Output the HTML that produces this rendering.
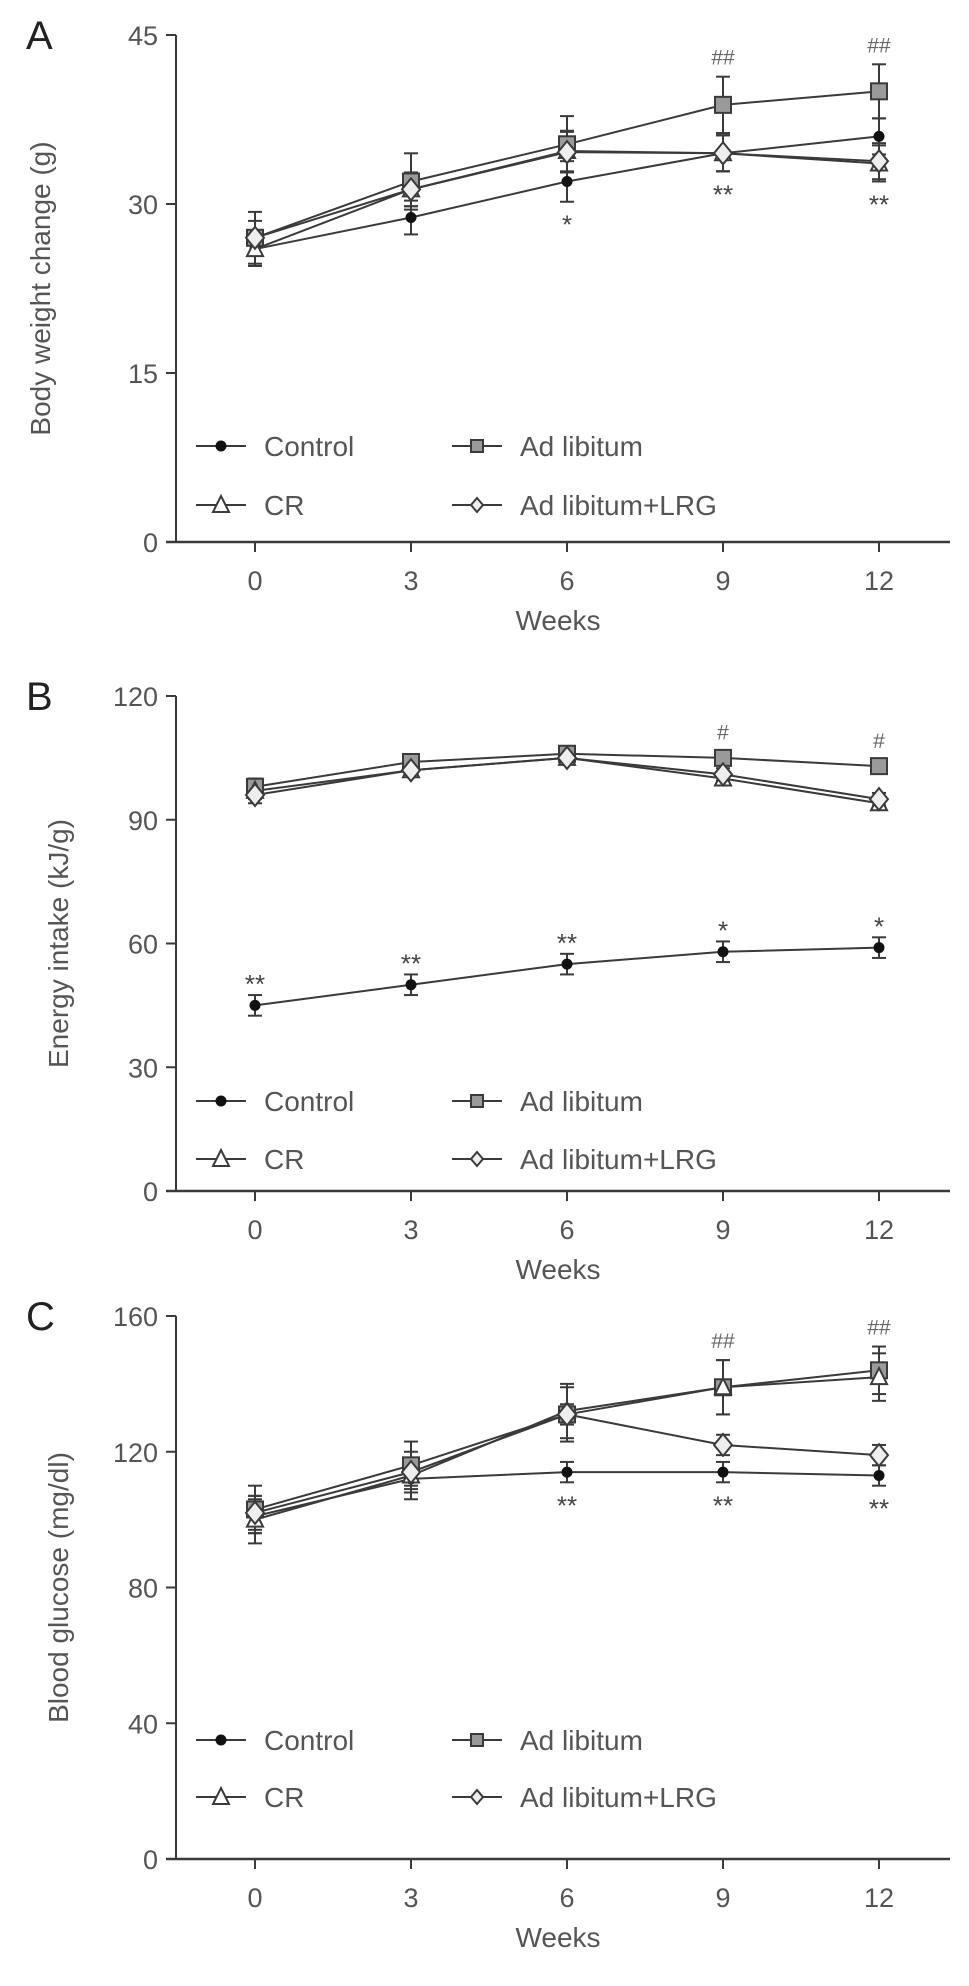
<!DOCTYPE html>
<html><head><meta charset="utf-8"><style>
html,body{margin:0;padding:0;background:#fff;}
svg{display:block;font-family:"Liberation Sans",sans-serif;}
</style></head><body>
<svg id="fig" width="969" height="1986" viewBox="0 0 969 1986"></svg>
<script>
const weeks = [0, 3, 6, 9, 12];
const xTickLabels = ["0", "3", "6", "9", "12"];
// Panel A: body weight change (g)
const aControl = [26, 28.8, 32, 34.5, 36];
const aAdLib = [27, 32, 35.3, 38.8, 40];
const aCR = [26, 31.3, 34.7, 34.5, 33.6];
const aLRG = [27, 31.3, 34.6, 34.5, 33.8];
const aErr = [1.5, 1.5, 1.8, 1.6, 1.6];
const aAdErr = [2.3, 2.5, 2.5, 2.5, 2.4];
const aTicks = [0, 15, 30, 45];
const aAbove = ["", "", "", "##", "##"];
const aBelow = ["", "", "*", "**", "**"];
// Panel B: energy intake (kJ/g)
const bControl = [45, 50, 55, 58, 59];
const bAdLib = [98, 104, 106, 105, 103];
const bCR = [97, 102, 105, 100, 94];
const bLRG = [96, 102, 105, 101, 95];
const bErr = [2.5, 2.5, 2.5, 2.5, 2.5];
const bAdErr = [2, 1.5, 1.5, 1.5, 1.5];
const bTicks = [0, 30, 60, 90, 120];
// Panel C: blood glucose (mg/dl)
const cControl = [101, 112, 114, 114, 113];
const cAdLib = [103, 116, 131, 139, 144];
const cCR = [100, 113, 132, 139, 142];
const cLRG = [102, 114, 131, 122, 119];
const cErr = [5, 4, 3, 3, 3];
const cAdErr = [7, 7, 8, 8, 7];
const cTicks = [0, 40, 80, 120, 160];

const NS = "http://www.w3.org/2000/svg";
const svg = document.getElementById("fig");
function mk(tag, attrs, parent, text) {
  const e = document.createElementNS(NS, tag);
  for (const k in attrs) e.setAttribute(k, attrs[k]);
  if (text !== undefined) e.textContent = text;
  (parent || svg).appendChild(e);
  return e;
}
const LC = "#3a3a3a", TC = "#555";

function marker(g, type, cx, cy) {
  if (type === "circle") return mk("circle", {cx, cy, r: 5.5, fill: "#111"}, g);
  if (type === "square") return mk("rect", {x: cx-8, y: cy-8, width: 16, height: 16, fill: "#9a9a9a", stroke: LC, "stroke-width": 2}, g);
  if (type === "tri") return mk("polygon", {points: `${cx},${cy-9} ${cx+8},${cy+7} ${cx-8},${cy+7}`, fill: "#fff", stroke: LC, "stroke-width": 2}, g);
  return mk("polygon", {points: `${cx},${cy-11} ${cx+9},${cy} ${cx},${cy+11} ${cx-9},${cy}`, fill: "#eee", stroke: LC, "stroke-width": 2}, g);
}

function panel(cfg) {
  const g = mk("g", {});
  
  
  const X = w => 255 + w * 52;
  const Y = v => cfg.y0 - (v / cfg.max) * (cfg.y0 - cfg.yTop);
  const L = mk("text", {x: 26, y: cfg.yTop + 14, "font-size": 40, fill: "#222"}, g, cfg.letter);
  
  
  const ya = mk("line", {x1: 176, y1: cfg.yTop, x2: 176, y2: cfg.y0, stroke: LC, "stroke-width": 2}, g);
  
  
  const xa = mk("line", {x1: 166, y1: cfg.y0, x2: 950, y2: cfg.y0, stroke: LC, "stroke-width": 2.5}, g);
  
  
  cfg.ticks.forEach(t => {
    mk("line", {x1: 166, y1: Y(t), x2: 176, y2: Y(t), stroke: LC, "stroke-width": 2}, g);
    const tl = mk("text", {x: 158, y: Y(t) + 10, "font-size": 27, fill: TC, "text-anchor": "end"}, g, String(t));
    
    
  });
  weeks.forEach((w, i) => {
    mk("line", {x1: X(w), y1: cfg.y0, x2: X(w), y2: cfg.y0 + 10, stroke: LC, "stroke-width": 2}, g);
    const tl = mk("text", {x: X(w), y: cfg.y0 + 48, "font-size": 27, fill: TC, "text-anchor": "middle"}, g, xTickLabels[i]);
    
    
  });
  const xt = mk("text", {x: 558, y: cfg.y0 + 88, "font-size": 28, fill: TC, "text-anchor": "middle"}, g, "Weeks");
  
  
  const yc = (cfg.yTop + cfg.y0) / 2;
  const yt = mk("text", {x: cfg.ytx, y: yc, "font-size": 28, fill: TC, "text-anchor": "middle", transform: `rotate(-90 ${cfg.ytx} ${yc})`}, g, cfg.ytitle);
  
  
  cfg.series.forEach(s => {
    const sg = mk("g", {}, g);
    
    
    mk("polyline", {points: s.vals.map((v, i) => X(weeks[i]) + "," + Y(v)).join(" "), fill: "none", stroke: LC, "stroke-width": 2}, sg);
    s.vals.forEach((v, i) => {
      const e = s.err[i], cx = X(weeks[i]);
      mk("line", {x1: cx, y1: Y(v + e), x2: cx, y2: Y(v - e), stroke: LC, "stroke-width": 2}, sg);
      mk("line", {x1: cx - 7, y1: Y(v + e), x2: cx + 7, y2: Y(v + e), stroke: LC, "stroke-width": 2}, sg);
      mk("line", {x1: cx - 7, y1: Y(v - e), x2: cx + 7, y2: Y(v - e), stroke: LC, "stroke-width": 2}, sg);
    });
  });
  cfg.series.forEach(s => {
    s.vals.forEach((v, i) => {
      const m = marker(g, s.type, X(weeks[i]), Y(v));
      
      
    });
  });
  weeks.forEach((w, i) => {
    if (cfg.above[i]) {
      const v = cfg.aboveRef[i] + cfg.aboveErr[i];
      const t = mk("text", {x: X(w), y: Y(v) - 12, "font-size": 21, fill: "#666", "text-anchor": "middle"}, g, cfg.above[i]);
      
      
    }
    if (cfg.below[i]) {
      const v = cfg.belowRef[i] - cfg.belowErr[i];
      const yy = cfg.belowUp ? Y(cfg.belowRef[i] + cfg.belowErr[i]) - 2 : Y(v) + 32;
      const t = mk("text", {x: X(w), y: yy, "font-size": 26, fill: "#444", "text-anchor": "middle"}, g, cfg.below[i]);
      
      
    }
  });
  const leg = [["circle", "Control", 196, cfg.leg1], ["square", "Ad libitum", 452, cfg.leg1], ["tri", "CR", 196, cfg.leg2], ["diamond", "Ad libitum+LRG", 452, cfg.leg2]];
  leg.forEach(([t, label, lx, ly]) => {
    const lg = mk("g", {}, g);
    
    
    mk("line", {x1: lx, y1: ly, x2: lx + 50, y2: ly, stroke: LC, "stroke-width": 2}, lg);
    const m = marker(lg, t, lx + 25, ly);
    if (t === "diamond") { m.setAttribute("points", `${lx+25},${ly-7} ${lx+31},${ly} ${lx+25},${ly+7} ${lx+19},${ly}`); }
    if (t === "square") { m.setAttribute("x", lx + 19); m.setAttribute("y", ly - 6); m.setAttribute("width", 12); m.setAttribute("height", 12); }
    mk("text", {x: lx + 68, y: ly + 10, "font-size": 28, fill: TC}, lg, label);
  });
}

panel({name: "panel-a-body-weight", letter: "A", yTop: 35, y0: 542, max: 45, ticks: aTicks, ytx: 50,
  ytitle: "Body weight change (g)", leg1: 446, leg2: 505,
  series: [{key: "control", type: "circle", vals: aControl, err: aErr}, {key: "ad-libitum", type: "square", vals: aAdLib, err: aAdErr},
           {key: "cr", type: "tri", vals: aCR, err: aErr}, {key: "ad-libitum-lrg", type: "diamond", vals: aLRG, err: aErr}],
  above: aAbove, aboveRef: aAdLib, aboveErr: aAdErr, below: aBelow, belowRef: aCR.map((v, i) => Math.min(v, aControl[i])), belowErr: aErr});

panel({name: "panel-b-energy-intake", letter: "B", yTop: 696, y0: 1191, max: 120, ticks: bTicks, ytx: 68,
  ytitle: "Energy intake (kJ/g)", leg1: 1101, leg2: 1159,
  series: [{key: "control", type: "circle", vals: bControl, err: bErr}, {key: "ad-libitum", type: "square", vals: bAdLib, err: bAdErr},
           {key: "cr", type: "tri", vals: bCR, err: bAdErr}, {key: "ad-libitum-lrg", type: "diamond", vals: bLRG, err: bAdErr}],
  above: ["", "", "", "#", "#"], aboveRef: bAdLib, aboveErr: bAdErr,
  below: ["**", "**", "**", "*", "*"], belowRef: bControl, belowErr: bErr, belowUp: true});

panel({name: "panel-c-blood-glucose", letter: "C", yTop: 1316, y0: 1859, max: 160, ticks: cTicks, ytx: 68,
  ytitle: "Blood glucose (mg/dl)", leg1: 1740, leg2: 1797,
  series: [{key: "control", type: "circle", vals: cControl, err: cErr}, {key: "ad-libitum", type: "square", vals: cAdLib, err: cAdErr},
           {key: "cr", type: "tri", vals: cCR, err: cAdErr}, {key: "ad-libitum-lrg", type: "diamond", vals: cLRG, err: cErr}],
  above: ["", "", "", "##", "##"], aboveRef: cAdLib, aboveErr: cAdErr,
  below: ["", "", "**", "**", "**"], belowRef: cControl, belowErr: cErr});
</script>
</body></html>
